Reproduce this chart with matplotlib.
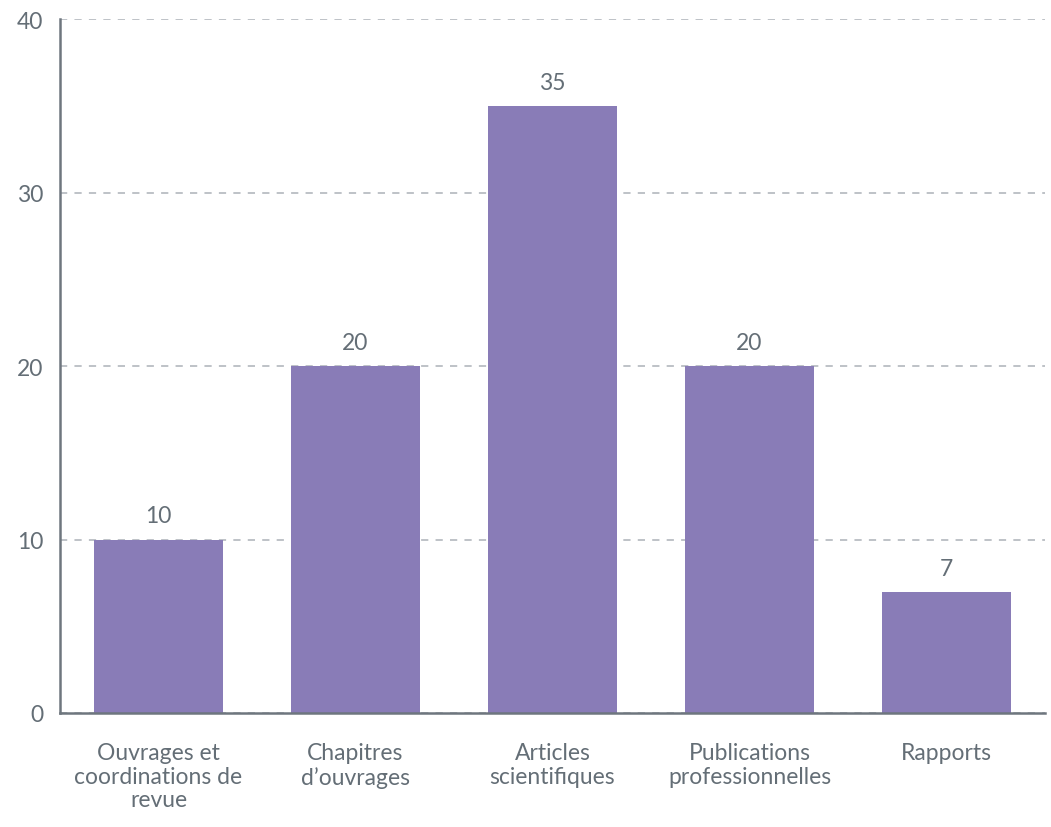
import matplotlib.pyplot as plt

categories = ['Ouvrages et\ncoordinations de\nrevue', 'Chapitres\nd\u2019ouvrages',
              'Articles\nscienti\ufb01ques', 'Publications\nprofessionnelles', 'Rapports']
values = [10, 20, 35, 20, 7]
yticks = [0, 10, 20, 30, 40]

plt.rcParams['font.family'] = ['Lato', 'DejaVu Sans']
text_col = '#646e76'
axis_col = '#6e767e'
fs = 16.5

fig = plt.figure(figsize=(10.51, 8.28), dpi=100)
ax = fig.add_axes([60 / 1051, 114 / 828, 985 / 1051, 694 / 828])

x = list(range(len(categories)))
bars = ax.bar(x, values, width=0.65, color='#897cb7', zorder=3)
for b, v in zip(bars, values):
    ax.text(b.get_x() + b.get_width() / 2, v + 0.75, str(v), ha='center', va='bottom',
            fontsize=fs, color=text_col)

ax.set_xlim(-0.5, 4.5)
ax.set_ylim(0, 40)
ax.set_yticks(yticks)
ax.set_xticks(x)
ax.set_xticklabels(categories, fontsize=fs, color=text_col, linespacing=1.15)
ax.tick_params(axis='y', labelsize=fs, labelcolor=text_col, length=0, pad=12)
ax.tick_params(axis='x', length=0, pad=21)
ax.yaxis.grid(True, linestyle=(0, (4, 4)), color='#b9bdc3', linewidth=1.3, zorder=0)

for s in ['top', 'right']:
    ax.spines[s].set_visible(False)
for s in ['left', 'bottom']:
    ax.spines[s].set_color(axis_col)
    ax.spines[s].set_linewidth(1.8)
    ax.spines[s].set_zorder(4)

fig.savefig('out.png', dpi=100)
